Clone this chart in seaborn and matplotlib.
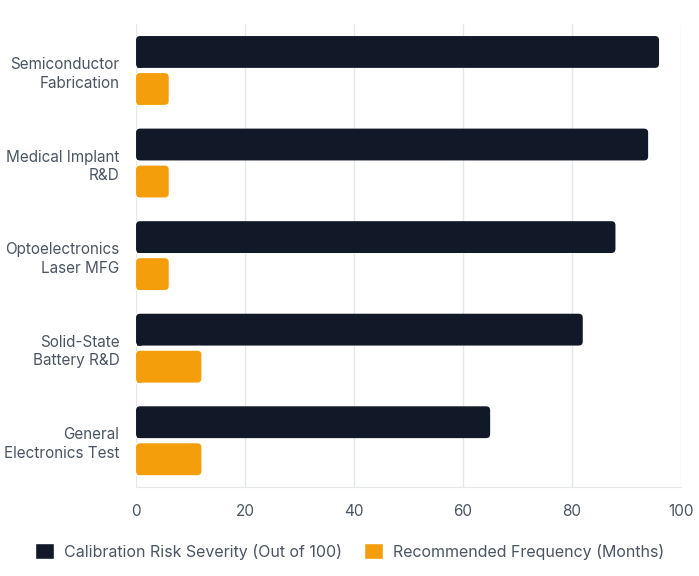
import pandas as pd
import matplotlib.pyplot as plt
import seaborn as sns
from matplotlib.patches import FancyBboxPatch, Patch

categorias = ['Semiconductor\nFabrication', 'Medical Implant\nR&D', 'Optoelectronics\nLaser MFG',
              'Solid-State\nBattery R&D', 'General\nElectronics Test']
risco = [96, 94, 88, 82, 65]
frequencia = [6, 6, 6, 12, 12]
series = ['Calibration Risk Severity (Out of 100)', 'Recommended Frequency (Months)']
cores = ['#111827', '#f59e0b']

df = pd.DataFrame({
    'categoria': categorias * 2,
    'valor': risco + frequencia,
    'serie': [series[0]] * len(categorias) + [series[1]] * len(categorias),
})

sns.set_style('white')
plt.rcParams['font.family'] = ['Inter', 'DejaVu Sans']

fig = plt.figure(figsize=(6.99, 5.76), dpi=100)
ax = fig.add_axes([0.1946, 0.1545, 0.7794, 0.8035])

sns.barplot(data=df, y='categoria', x='valor', hue='serie', palette=cores, saturation=1,
            orient='h', width=0.8, gap=0.14, legend=False, ax=ax)

ax.set_xlim(0, 100)
ax.set_xticks([0, 20, 40, 60, 80, 100])
ax.grid(axis='x', color='#e5e7eb', linewidth=1)
ax.set_axisbelow(True)
for s in ['top', 'right', 'left']:
    ax.spines[s].set_visible(False)
ax.spines['bottom'].set_color('#e5e7eb')
ax.tick_params(axis='x', length=6, color='#e5e7eb', labelsize=11, labelcolor='#4b5563', pad=6)
ax.tick_params(axis='y', length=0, labelsize=11, labelcolor='#4b5563', pad=12)
for t in ax.get_yticklabels():
    t.set_linespacing(1.3)
ax.set_xlabel('')
ax.set_ylabel('')

# cantos arredondados so do lado direito das barras
fig.canvas.draw()
raio = 0.75
aspecto = (5 / 463) / (100 / 545)
for p in list(ax.patches):
    x0, y0 = p.get_x(), p.get_y()
    w, h = p.get_width(), p.get_height()
    if w <= 0:
        continue
    cor = p.get_facecolor()
    ax.add_patch(FancyBboxPatch((x0, y0), w, h,
                                boxstyle=f'round,pad=0,rounding_size={raio}',
                                mutation_aspect=aspecto, facecolor=cor,
                                edgecolor='none', zorder=p.get_zorder()))
    p.set_width(min(w, raio * 1.5))

handles = [Patch(facecolor=c, label=s) for c, s in zip(cores, series)]
fig.legend(handles=handles, loc='center', bbox_to_anchor=(0.5, 0.043), ncol=2,
           frameon=False, fontsize=11.5, handlelength=1.2, handleheight=1.2,
           handletextpad=0.6, columnspacing=1.4, labelcolor='#4b5563')

plt.savefig('out.png', dpi=100)
